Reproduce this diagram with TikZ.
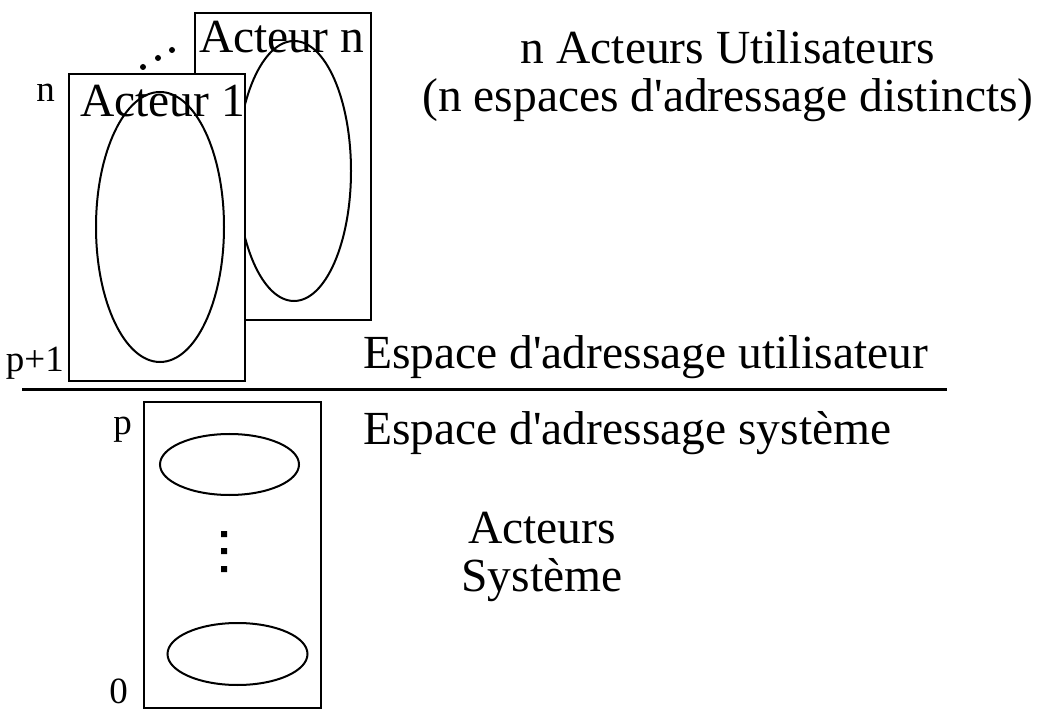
\documentclass[tikz,border=0pt]{standalone}
\usepackage{fontspec}
\setmainfont{Liberation Serif}
\usepackage{tikz}
\usetikzlibrary{shapes.geometric}

\begin{document}
\begin{tikzpicture}[x=1pt,y=-1pt,
    cadre/.style={rectangle,draw,fill=white,line width=2pt,inner sep=0pt},
    bulle/.style={ellipse,draw,line width=2pt,inner sep=0pt},
    titre/.style={inner sep=0pt,align=center,font=\fontsize{47.5}{48}\selectfont},
    num/.style={inner sep=0pt,anchor=base east,font=\fontsize{37}{38}\selectfont}]
  \useasboundingbox (0,0) rectangle (1045,711);
  % acteurs utilisateurs : acteur n derriere, acteur 1 devant
  \node[cadre,minimum width=176pt,minimum height=307pt] (cadren) at (283,166.5) {};
  \node[bulle,minimum width=114pt,minimum height=260pt] (bullen) at (294,171) {};
  \node[titre,anchor=base west] (nomn) at (199,53) {Acteur n};
  \node[cadre,minimum width=176pt,minimum height=307pt] (cadre1) at (157,227.5) {};
  \node[bulle,minimum width=128pt,minimum height=270pt] (bulle1) at (160,227) {};
  \node[titre,anchor=base west] (nom1) at (80,117) {Acteur 1};
  \fill (143,67) circle (3pt) (158,58) circle (3pt) (172,50) circle (3pt);
  \node[num] (n) at (55,102) {n};
  \node[num] (pplus) at (64,372) {p+1};
  % base = derniere ligne
  \node[titre,anchor=base] (util) at (728,112) {n Acteurs Utilisateurs\\(n espaces d\textquotesingle adressage distincts)};
  % separation utilisateur / systeme
  \coordinate (sepg) at (22,390);
  \coordinate (sepd) at (947,390);
  \draw[line width=3pt] (sepg) -- (sepd);
  \node[titre,anchor=base west] (espu) at (363,369) {Espace d\textquotesingle adressage utilisateur};
  \node[titre,anchor=base west] (esps) at (363,444) {Espace d\textquotesingle adressage système};
  % acteurs systeme
  \node[cadre,minimum width=177pt,minimum height=306pt] (cadres) at (232.5,555) {};
  \node[bulle,minimum width=139pt,minimum height=61pt] (haut) at (229.5,464.5) {};
  \node[bulle,minimum width=140pt,minimum height=62pt] (bas) at (237.5,654) {};
  \fill (221,531) rectangle (227,537) (221,548) rectangle (227,554) (221,566) rectangle (227,572);
  \node[num] (p) at (132,435) {p};
  \node[num] (zero) at (128,703) {0};
  \node[titre,anchor=base] (sys) at (542,591) {Acteurs\\Système};
\end{tikzpicture}
\end{document}
